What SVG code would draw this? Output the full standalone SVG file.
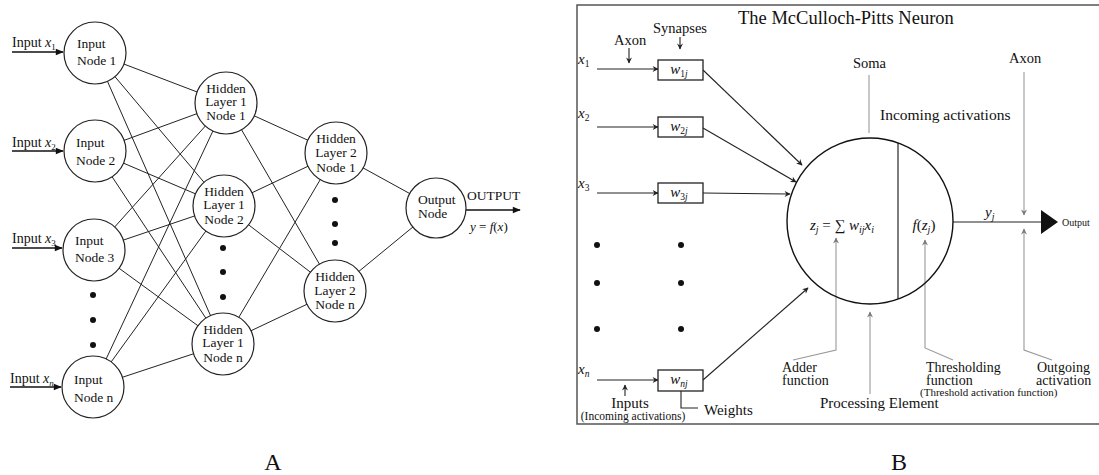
<svg xmlns="http://www.w3.org/2000/svg" width="1099" height="475" viewBox="0 0 1099 475">
<defs>
<style>
text{font-family:"Liberation Serif","DejaVu Serif",serif;fill:#111}
.nl{font-size:13.5px}
.it{font-style:italic}
.edge{stroke:#222;stroke-width:1;fill:none}
.node{fill:#fff;stroke:#222;stroke-width:1.2}
.inarr{stroke:#111;stroke-width:1.6;fill:none}
.bl{stroke:#222;stroke-width:1.1;fill:none}
.gl{stroke:#999;stroke-width:1.1;fill:none}
.dot{fill:#111}
.box{fill:#fff;stroke:#222;stroke-width:1.3}
.lb{font-size:15px}
.ann{font-size:14px}
</style>
<marker id="ah" viewBox="0 0 10 10" refX="9" refY="5" markerWidth="9" markerHeight="8" markerUnits="userSpaceOnUse" orient="auto"><path d="M0,1 L10,5 L0,9 Z" fill="#111"/></marker>
<marker id="ab" viewBox="0 0 10 10" refX="9" refY="5" markerWidth="8" markerHeight="6" markerUnits="userSpaceOnUse" orient="auto"><path d="M0,0 L10,5 L0,10 L3,5 Z" fill="#222"/></marker>
<marker id="ag" viewBox="0 0 10 10" refX="9" refY="5" markerWidth="8" markerHeight="6" markerUnits="userSpaceOnUse" orient="auto"><path d="M0,0 L10,5 L0,10 L3,5 Z" fill="#777"/></marker>
</defs>

<!-- ===== Panel A ===== -->
<g id="connectors-A">
<line class="edge" x1="95" y1="53" x2="226" y2="103"/>
<line class="edge" x1="95" y1="53" x2="224" y2="206"/>
<line class="edge" x1="95" y1="53" x2="223" y2="344"/>
<line class="edge" x1="95" y1="151" x2="226" y2="103"/>
<line class="edge" x1="95" y1="151" x2="224" y2="206"/>
<line class="edge" x1="95" y1="151" x2="223" y2="344"/>
<line class="edge" x1="94" y1="250" x2="226" y2="103"/>
<line class="edge" x1="94" y1="250" x2="224" y2="206"/>
<line class="edge" x1="94" y1="250" x2="223" y2="344"/>
<line class="edge" x1="93" y1="387" x2="226" y2="103"/>
<line class="edge" x1="93" y1="387" x2="224" y2="206"/>
<line class="edge" x1="93" y1="387" x2="223" y2="344"/>
<line class="edge" x1="226" y1="103" x2="336" y2="153"/>
<line class="edge" x1="226" y1="103" x2="335" y2="291"/>
<line class="edge" x1="224" y1="206" x2="336" y2="153"/>
<line class="edge" x1="224" y1="206" x2="335" y2="291"/>
<line class="edge" x1="223" y1="344" x2="336" y2="153"/>
<line class="edge" x1="223" y1="344" x2="335" y2="291"/>
<line class="edge" x1="336" y1="153" x2="436" y2="208"/>
<line class="edge" x1="335" y1="291" x2="436" y2="208"/>
<line class="inarr" x1="12" y1="52" x2="63" y2="52" marker-end="url(#ah)"/>
<line class="inarr" x1="12" y1="151" x2="63" y2="151" marker-end="url(#ah)"/>
<line class="inarr" x1="12" y1="248" x2="62" y2="248" marker-end="url(#ah)"/>
<line class="inarr" x1="10" y1="387" x2="61" y2="387" marker-end="url(#ah)"/>
<line class="inarr" x1="466" y1="210" x2="520" y2="210" marker-end="url(#ah)"/>
</g>

<g id="input-labels">
<text x="12" y="47" font-size="14">Input <tspan class="it">x</tspan><tspan font-size="9" dy="3">1</tspan></text>
<text x="12" y="147" font-size="14">Input <tspan class="it">x</tspan><tspan font-size="9" dy="3">2</tspan></text>
<text x="12" y="243" font-size="14">Input <tspan class="it">x</tspan><tspan font-size="9" dy="3">3</tspan></text>
<text x="10" y="383" font-size="14">Input <tspan class="it">x</tspan><tspan class="it" font-size="9" dy="3">n</tspan></text>
</g>

<g id="in1"><circle class="node" cx="95" cy="53" r="31"/><text class="nl" x="77" y="48">Input</text><text class="nl" x="77" y="65">Node 1</text></g>
<g id="in2"><circle class="node" cx="95" cy="151" r="31"/><text class="nl" x="76" y="147">Input</text><text class="nl" x="76" y="165">Node 2</text></g>
<g id="in3"><circle class="node" cx="94" cy="250" r="31"/><text class="nl" x="75" y="245">Input</text><text class="nl" x="75" y="262">Node 3</text></g>
<g id="inn"><circle class="node" cx="93" cy="387" r="31"/><text class="nl" x="74" y="384">Input</text><text class="nl" x="74" y="402">Node n</text></g>
<g id="in-dots"><circle class="dot" cx="93" cy="295" r="3"/><circle class="dot" cx="93" cy="320" r="3"/><circle class="dot" cx="93" cy="345" r="3"/></g>

<g id="h1n1"><circle class="node" cx="226" cy="103" r="31"/><text class="nl" x="226" y="93" text-anchor="middle">Hidden</text><text class="nl" x="226" y="106" text-anchor="middle">Layer 1</text><text class="nl" x="226" y="120" text-anchor="middle">Node 1</text></g>
<g id="h1n2"><circle class="node" cx="224" cy="206" r="31"/><text class="nl" x="224" y="196" text-anchor="middle">Hidden</text><text class="nl" x="224" y="209" text-anchor="middle">Layer 1</text><text class="nl" x="224" y="224" text-anchor="middle">Node 2</text></g>
<g id="h1nn"><circle class="node" cx="223" cy="344" r="31"/><text class="nl" x="223" y="334" text-anchor="middle">Hidden</text><text class="nl" x="223" y="347" text-anchor="middle">Layer 1</text><text class="nl" x="223" y="362" text-anchor="middle">Node n</text></g>
<g id="h1-dots"><circle class="dot" cx="223" cy="248" r="3"/><circle class="dot" cx="223" cy="272" r="3"/><circle class="dot" cx="223" cy="297" r="3"/></g>

<g id="h2n1"><circle class="node" cx="336" cy="153" r="31"/><text class="nl" x="336" y="143" text-anchor="middle">Hidden</text><text class="nl" x="336" y="157" text-anchor="middle">Layer 2</text><text class="nl" x="336" y="172" text-anchor="middle">Node 1</text></g>
<g id="h2nn"><circle class="node" cx="335" cy="291" r="31"/><text class="nl" x="335" y="281" text-anchor="middle">Hidden</text><text class="nl" x="335" y="295" text-anchor="middle">Layer 2</text><text class="nl" x="335" y="309" text-anchor="middle">Node n</text></g>
<g id="h2-dots"><circle class="dot" cx="335" cy="200" r="3"/><circle class="dot" cx="335" cy="224" r="3"/><circle class="dot" cx="335" cy="243" r="3"/></g>

<g id="out"><circle class="node" cx="436" cy="208" r="30"/><text class="nl" x="418" y="204">Output</text><text class="nl" x="418" y="218">Node</text></g>
<g id="out-labels"><text x="467" y="200" font-size="13.5">OUTPUT</text><text x="470" y="231" font-size="13"><tspan class="it">y</tspan> = <tspan class="it">f</tspan>(<tspan class="it">x</tspan>)</text></g>

<text x="273" y="470" font-size="24" text-anchor="middle">A</text>

<!-- ===== Panel B ===== -->
<rect x="577" y="5" width="540" height="419" fill="none" stroke="#555" stroke-width="1.5"/>
<text x="738" y="24" font-size="18.5">The McCulloch-Pitts Neuron</text>

<g id="connectors-B">
<line class="bl" x1="597" y1="69" x2="658" y2="69" marker-end="url(#ab)"/>
<line class="bl" x1="597" y1="127" x2="658" y2="127" marker-end="url(#ab)"/>
<line class="bl" x1="597" y1="193" x2="658" y2="193" marker-end="url(#ab)"/>
<line class="bl" x1="597" y1="380" x2="658" y2="380" marker-end="url(#ab)"/>
<line class="bl" x1="703" y1="70" x2="802" y2="165" marker-end="url(#ab)"/>
<line class="bl" x1="703" y1="128" x2="796" y2="182" marker-end="url(#ab)"/>
<line class="bl" x1="703" y1="193" x2="790" y2="194" marker-end="url(#ab)"/>
<line class="bl" x1="703" y1="380" x2="808" y2="288" marker-end="url(#ab)"/>
<line class="bl" x1="680" y1="37" x2="680" y2="49" marker-end="url(#ab)"/>
<line class="bl" x1="629" y1="48" x2="629" y2="63" marker-end="url(#ab)"/>
<line class="bl" x1="625" y1="396" x2="625" y2="385" marker-end="url(#ab)"/>
<polyline class="bl" points="681,391 681,408 698,408"/>
<line class="bl" x1="953" y1="222" x2="1042" y2="222"/>
<path d="M1041,210 L1058,222 L1041,234 Z" fill="#111"/>
<line class="gl" x1="869" y1="75" x2="869" y2="133"/>
<line class="gl" x1="1024" y1="72" x2="1024" y2="215" marker-end="url(#ag)"/>
<polyline class="gl" points="1052,360 1024,350 1024,229" marker-end="url(#ag)"/>
<polyline class="gl" points="953,360 925,348 925,240" marker-end="url(#ag)"/>
<polyline class="gl" points="793,360 836,350 836,238" marker-end="url(#ag)"/>
<line class="gl" x1="870" y1="394" x2="870" y2="312" marker-end="url(#ag)"/>
</g>

<g id="inputs-B">
<text x="578" y="64" font-size="15"><tspan class="it">x</tspan><tspan font-size="9.5" dy="3">1</tspan></text>
<text x="578" y="118" font-size="15"><tspan class="it">x</tspan><tspan font-size="9.5" dy="3">2</tspan></text>
<text x="578" y="188" font-size="15"><tspan class="it">x</tspan><tspan font-size="9.5" dy="3">3</tspan></text>
<text x="578" y="374" font-size="15"><tspan class="it">x</tspan><tspan class="it" font-size="9.5" dy="3">n</tspan></text>
<circle class="dot" cx="597" cy="245" r="3"/><circle class="dot" cx="597" cy="283" r="3"/><circle class="dot" cx="597" cy="329" r="3"/>
<circle class="dot" cx="681" cy="245" r="3"/><circle class="dot" cx="681" cy="283" r="3"/><circle class="dot" cx="681" cy="329" r="3"/>
</g>

<g id="w1"><rect class="box" x="658" y="60" width="45" height="20"/><text x="679" y="74" font-size="15" text-anchor="middle"><tspan class="it">w</tspan><tspan font-size="9.5" dy="3">1</tspan><tspan class="it" font-size="9.5">j</tspan></text></g>
<g id="w2"><rect class="box" x="658" y="117" width="45" height="20"/><text x="679" y="131" font-size="15" text-anchor="middle"><tspan class="it">w</tspan><tspan font-size="9.5" dy="3">2</tspan><tspan class="it" font-size="9.5">j</tspan></text></g>
<g id="w3"><rect class="box" x="658" y="183" width="45" height="20"/><text x="679" y="197" font-size="15" text-anchor="middle"><tspan class="it">w</tspan><tspan font-size="9.5" dy="3">3</tspan><tspan class="it" font-size="9.5">j</tspan></text></g>
<g id="wn"><rect class="box" x="658" y="370" width="45" height="21"/><text x="679" y="384" font-size="15" text-anchor="middle"><tspan class="it">w</tspan><tspan class="it" font-size="9.5" dy="3">nj</tspan></text></g>

<g id="neuron">
<circle cx="870" cy="221" r="83" fill="none" stroke="#111" stroke-width="1.4"/>
<line x1="898" y1="143" x2="898" y2="299" stroke="#111" stroke-width="1.1"/>
<text x="842" y="230" font-size="15" text-anchor="middle"><tspan class="it">z</tspan><tspan class="it" font-size="10" dy="3">j</tspan><tspan dy="-3"> = ∑ </tspan><tspan class="it">w</tspan><tspan class="it" font-size="10" dy="3">ij</tspan><tspan class="it" dy="-3">x</tspan><tspan class="it" font-size="10" dy="3">i</tspan></text>
<text x="924" y="230" font-size="15" text-anchor="middle"><tspan class="it">f</tspan>(<tspan class="it">z</tspan><tspan class="it" font-size="10" dy="3">j</tspan><tspan dy="-3">)</tspan></text>
</g>

<g id="labels-B">
<text x="653" y="33" font-size="14.5">Synapses</text>
<text x="614" y="45" font-size="14.5">Axon</text>
<text x="853" y="68" font-size="14.5">Soma</text>
<text x="1009" y="63" font-size="14.5">Axon</text>
<text x="880" y="120" font-size="15.5">Incoming activations</text>
<text x="985" y="217" font-size="15"><tspan class="it">y</tspan><tspan class="it" font-size="10" dy="3">j</tspan></text>
<text x="1062" y="226" font-size="10">Output</text>
<text x="782" y="372" class="ann">Adder</text>
<text x="782" y="385" class="ann">function</text>
<text x="926" y="372" class="ann">Thresholding</text>
<text x="926" y="385" class="ann">function</text>
<text x="920" y="396" font-size="11">(Threshold activation function)</text>
<text x="1037" y="372" class="ann">Outgoing</text>
<text x="1036" y="385" class="ann">activation</text>
<text x="820" y="408" class="lb">Processing Element</text>
<text x="630" y="408" class="lb" text-anchor="middle">Inputs</text>
<text x="633" y="420" font-size="11.5" text-anchor="middle">(Incoming activations)</text>
<text x="704" y="415" class="lb">Weights</text>
</g>

<text x="899" y="470" font-size="24" text-anchor="middle">B</text>
</svg>
